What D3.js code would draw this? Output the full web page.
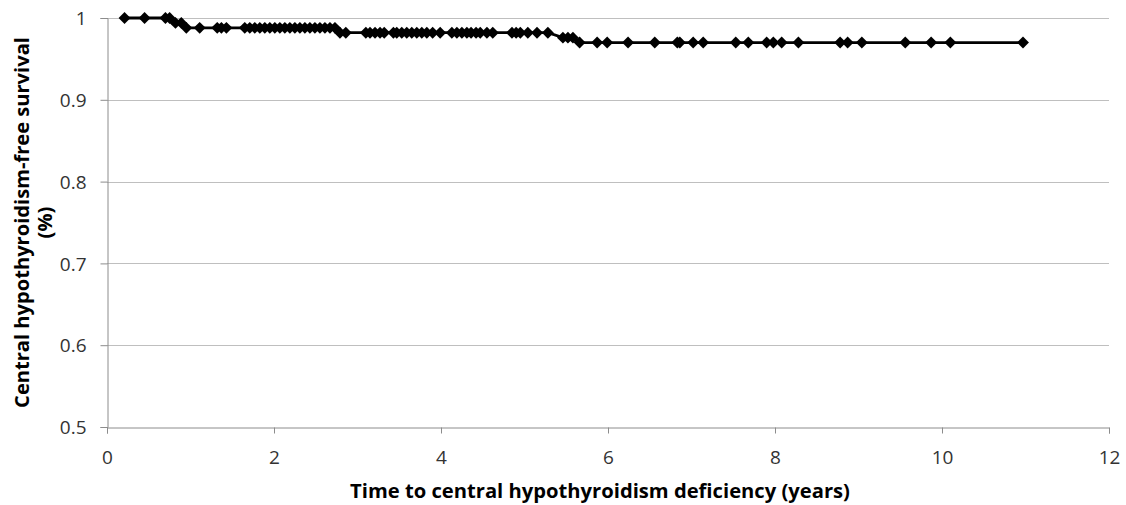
<!DOCTYPE html>
<html><head><meta charset="utf-8">
<script src="https://cdn.jsdelivr.net/npm/d3@7"></script>
<style>html,body{margin:0;padding:0;background:#fff;}svg{display:block;}</style>
</head><body>
<svg id="chart" width="1126" height="505"></svg>
<script>
// Time (years) of each observation
const times = [0.21,0.45,0.70,0.75,
  0.82,0.89,
  0.95,1.11,1.32,1.37,1.43,1.65,1.71,1.77,1.83,1.89,1.95,2.01,2.07,2.13,2.19,2.25,2.31,2.37,2.43,2.49,2.55,2.61,2.67,2.73,
  2.79,2.86,3.10,3.15,3.21,3.27,3.32,3.43,3.47,3.53,3.59,3.65,3.71,3.77,3.83,3.90,3.99,4.13,4.19,4.25,4.31,4.36,4.42,4.47,4.55,4.62,4.85,4.90,4.95,5.04,5.15,5.28,
  5.46,5.52,5.58,
  5.66,5.87,5.99,6.24,6.56,6.83,6.86,7.02,7.14,7.53,7.68,7.90,7.98,8.08,8.28,8.78,8.87,9.04,9.56,9.87,10.10,10.97];
// Survival at each observation
const survival = [1,1,1,1,
  0.994,0.994,
  0.988,0.988,0.988,0.988,0.988,0.988,0.988,0.988,0.988,0.988,0.988,0.988,0.988,0.988,0.988,0.988,0.988,0.988,0.988,0.988,0.988,0.988,0.988,0.988,
  0.982,0.982,0.982,0.982,0.982,0.982,0.982,0.982,0.982,0.982,0.982,0.982,0.982,0.982,0.982,0.982,0.982,0.982,0.982,0.982,0.982,0.982,0.982,0.982,0.982,0.982,0.982,0.982,0.982,0.982,0.982,0.982,
  0.976,0.976,0.976,
  0.970,0.970,0.970,0.970,0.970,0.970,0.970,0.970,0.970,0.970,0.970,0.970,0.970,0.970,0.970,0.970,0.970,0.970,0.970,0.970,0.970,0.970];
const xTicks = [0,2,4,6,8,10,12];
const yTicks = [0.5,0.6,0.7,0.8,0.9,1];
const xTitle = "Time to central hypothyroidism deficiency (years)";
const yTitle1 = "Central hypothyroidism-free survival";
const yTitle2 = "(%)";

const data = times.map((t,i)=>({t, s: survival[i]}));
const svg = d3.select("#chart");
const L = 107, R = 1109, T = 18, B = 427;
const x = d3.scaleLinear().domain([0,12]).range([L,R]);
const y = d3.scaleLinear().domain([0.5,1]).range([B,T]);
const font = "'Open Sans', sans-serif";

// gridlines
svg.append("g").selectAll("line").data(yTicks.filter(d=>d>0.5)).join("line")
  .attr("x1",L).attr("x2",R).attr("y1",d=>Math.round(y(d))+0.5).attr("y2",d=>Math.round(y(d))+0.5)
  .attr("stroke","#bfbfbf").attr("stroke-width",1);

// y axis
const yAxis = svg.append("g").attr("transform",`translate(${L+0.5},0)`)
  .call(d3.axisLeft(y).tickValues(yTicks).tickSize(7).tickPadding(14).tickFormat(d3.format("~g")));
// x axis
const xAxis = svg.append("g").attr("transform",`translate(0,${Math.round(B)+0.5})`)
  .call(d3.axisBottom(x).tickValues(xTicks).tickSize(6).tickPadding(17).tickFormat(d3.format("d")));
[yAxis,xAxis].forEach(g=>{
  g.select(".domain").attr("stroke","#8c8c8c");
  g.selectAll(".tick line").attr("stroke","#8c8c8c");
  g.selectAll("text").attr("font-family",font).attr("font-size",19).attr("fill","#333");
});
yAxis.selectAll(".tick text").attr("dy","0.35em");

// line
svg.append("path").datum(data)
  .attr("d", d3.line().x(d=>x(d.t)).y(d=>y(d.s)))
  .attr("fill","none").attr("stroke","#000").attr("stroke-width",2.8);
// markers
const sym = d3.symbol().type(d3.symbolDiamond2).size(90);
svg.append("g").selectAll("path").data(data).join("path")
  .attr("transform",d=>`translate(${x(d.t)},${y(d.s)})`)
  .attr("d",sym).attr("fill","#000");

// titles, fitted to the reference widths
function fit(sel, target){
  const w = sel.node().getComputedTextLength();
  const fs = parseFloat(sel.attr("font-size"));
  sel.attr("font-size", fs*target/w);
}
const xt = svg.append("text").attr("x",(L+R)/2-8).attr("y",498).attr("text-anchor","middle")
  .attr("font-family",font).attr("font-weight","bold").attr("font-size",20).attr("fill","#000").text(xTitle);
fit(xt,500);
const cy = (T+B)/2;
const yt1 = svg.append("text").attr("transform",`translate(29,${cy}) rotate(-90)`).attr("text-anchor","middle")
  .attr("font-family",font).attr("font-weight","bold").attr("font-size",20).attr("fill","#000").text(yTitle1);
fit(yt1,371);
svg.append("text").attr("transform",`translate(52,${cy}) rotate(-90)`).attr("text-anchor","middle")
  .attr("font-family",font).attr("font-weight","bold").attr("font-size",yt1.attr("font-size")).attr("fill","#000").text(yTitle2);
</script>
</body></html>
